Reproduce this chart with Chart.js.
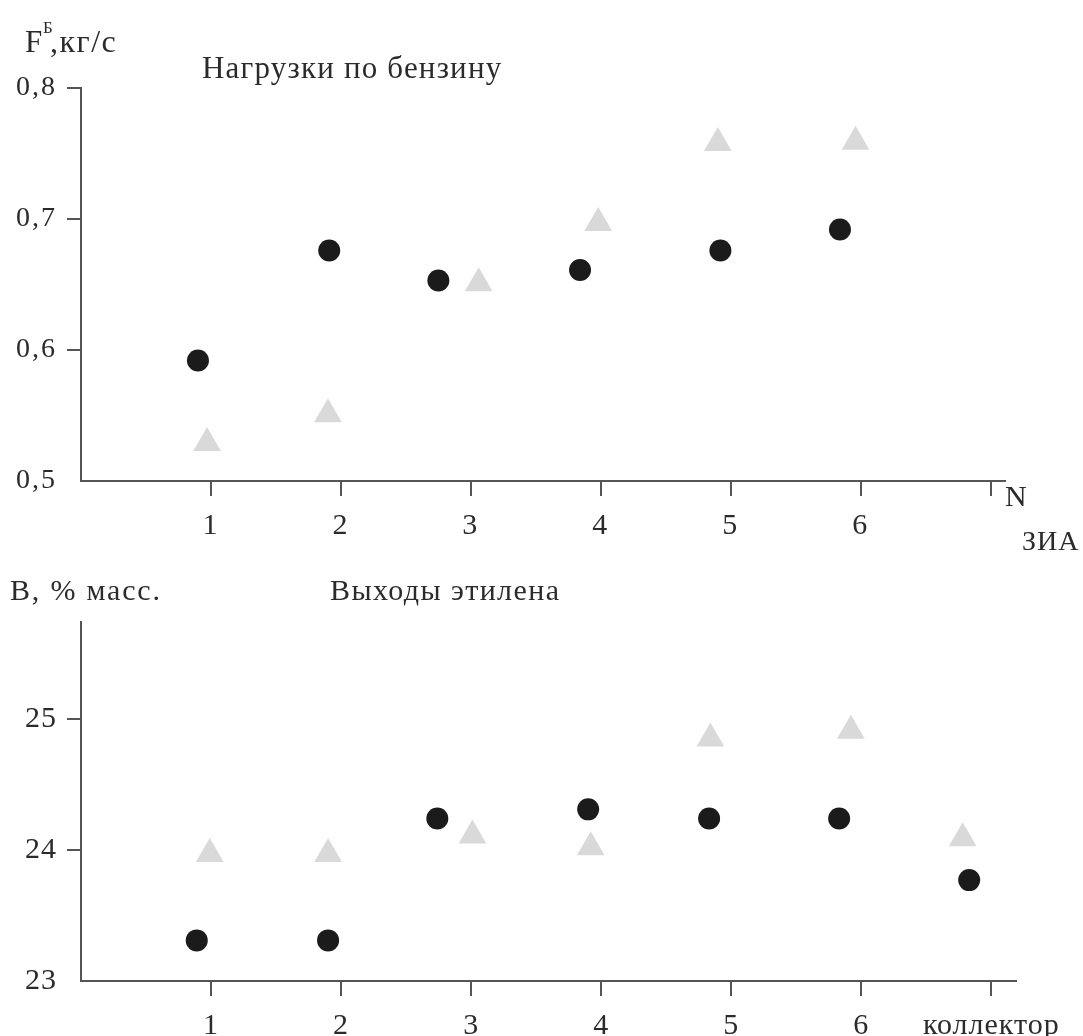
<!DOCTYPE html>
<html>
<head>
<meta charset="utf-8">
<script src="https://cdn.jsdelivr.net/npm/chart.js@4/dist/chart.umd.min.js"></script>
<style>
  body{margin:0;background:#fff;width:1083px;height:1036px;overflow:hidden;position:relative;}
  canvas{position:absolute;left:0;}
  #top{top:0;}
  #bottom{top:560px;}
</style>
</head>
<body>
<canvas id="top" width="1083" height="560"></canvas>
<canvas id="bottom" width="1083" height="476"></canvas>
<script>
// ticks along N (ЗИА number); 7 = collector on the lower chart
const xTicks=[1,2,3,4,5,6,7];
const topXLabels=["1","2","3","4","5","6",""];
const bottomXLabels=["1","2","3","4","5","6","коллектор"];
const topYTicks=[0.5,0.6,0.7,0.8];
const bottomYTicks=[23,24,25];

// Нагрузки по бензину, кг/с
const loadCircleX=[0.90,1.91,2.75,3.84,4.92,5.84];
const loadCircleY=[0.592,0.676,0.653,0.661,0.676,0.692];
const loadTriangleX=[0.97,1.90,3.06,3.98,4.90,5.96];
const loadTriangleY=[0.529,0.551,0.651,0.697,0.758,0.759];

// Выходы этилена, % масс.
const yieldCircleX=[0.89,1.90,2.74,3.90,4.83,5.83,6.83];
const yieldCircleY=[23.31,23.31,24.24,24.31,24.24,24.24,23.77];
const yieldTriangleX=[0.99,1.90,3.01,3.92,4.84,5.92,6.78];
const yieldTriangleY=[23.97,23.97,24.11,24.02,24.85,24.91,24.09];

const FONT="'Liberation Serif','Times New Roman',serif";
const AXIS="#555";
const INK="#2b2b2b";

function pts(xs,ys){return xs.map((x,i)=>({x:x,y:ys[i]}));}

// free text (axis names, titles) drawn on the canvas; tick text gets a little spacing too
function textPlugin(items,tickSpacing){
  return {id:"texts",
    beforeDraw(chart){chart.ctx.letterSpacing=tickSpacing+"px";},
    afterDraw(chart){
      const c=chart.ctx;c.save();c.fillStyle=INK;c.textBaseline="alphabetic";c.textAlign="left";
      items.forEach(t=>{c.letterSpacing=(t.sp||0)+"px";c.font=t.size+"px "+FONT;c.fillText(t.text,t.x,t.y);});
      c.restore();c.letterSpacing="0px";
    }};
}

function makeChart(id,o){
  return new Chart(document.getElementById(id),{
    type:"scatter",
    data:{datasets:[
      {data:pts(o.cx,o.cy),pointStyle:"circle",pointRadius:11,pointBackgroundColor:"#1b1b1b",pointBorderWidth:0},
      {data:pts(o.tx,o.ty),pointStyle:"triangle",pointRadius:16,pointBackgroundColor:"#d9d9d9",pointBorderWidth:0}
    ]},
    options:{
      responsive:false,animation:false,
      layout:{padding:{top:o.padTop,right:o.padRight,left:0,bottom:0}},
      plugins:{legend:{display:false},tooltip:{enabled:false}},
      scales:{
        x:{type:"linear",min:0,max:o.xMax,
          afterBuildTicks:s=>{s.ticks=xTicks.map(v=>({value:v}));},
          afterFit:s=>{s.height=o.xHeight;},
          border:{display:true,color:AXIS,width:2},
          grid:{drawOnChartArea:false,drawTicks:true,tickLength:15,color:AXIS,lineWidth:2},
          ticks:{padding:o.xPad,color:INK,font:{family:FONT,size:30},maxRotation:0,autoSkip:false,
            callback:(v,i)=>o.xLabels[i]}},
        y:{type:"linear",min:o.yMin,max:o.yMax,
          afterBuildTicks:s=>{s.ticks=o.yTicks.map(v=>({value:v}));},
          afterFit:s=>{s.width=81;},
          border:{display:true,color:AXIS,width:2},
          grid:{drawOnChartArea:false,drawTicks:true,tickLength:14,lineWidth:2,
            color:c=>c.tick&&c.tick.value===o.yMin?"rgba(0,0,0,0)":AXIS},
          ticks:{padding:10,color:INK,font:{family:FONT,size:o.ySize},callback:o.yFmt}}
      }
    },
    plugins:[textPlugin(o.texts,o.tickSp)]
  });
}

makeChart("top",{
  cx:loadCircleX,cy:loadCircleY,tx:loadTriangleX,ty:loadTriangleY,
  xMax:7.11,yMin:0.5,yMax:0.8,yTicks:topYTicks,xLabels:topXLabels,
  padTop:88,padRight:78,xHeight:79,xPad:12,ySize:28,tickSp:2,
  yFmt:v=>v.toFixed(1).replace(".",","),
  texts:[
    {text:"F",x:25,y:52,size:31},
    {text:"Б",x:43,y:33,size:17},
    {text:",кг/с",x:50,y:52,size:32,sp:1.5},
    {text:"Нагрузки по бензину",x:202,y:78,size:31,sp:1.2},
    {text:"N",x:1005,y:506,size:30},
    {text:"ЗИА",x:1022,y:550,size:28,sp:1}
  ]
});

makeChart("bottom",{
  cx:yieldCircleX,cy:yieldCircleY,tx:yieldTriangleX,ty:yieldTriangleY,
  xMax:7.19,yMin:23,yMax:25.74,yTicks:bottomYTicks,xLabels:bottomXLabels,
  padTop:62,padRight:67,xHeight:55,xPad:12,ySize:30,tickSp:1,
  yFmt:v=>String(v),
  texts:[
    {text:"В, % масс.",x:10,y:40,size:30,sp:1.8},
    {text:"Выходы этилена",x:330,y:40,size:30,sp:1.4}
  ]
});
</script>
</body>
</html>
